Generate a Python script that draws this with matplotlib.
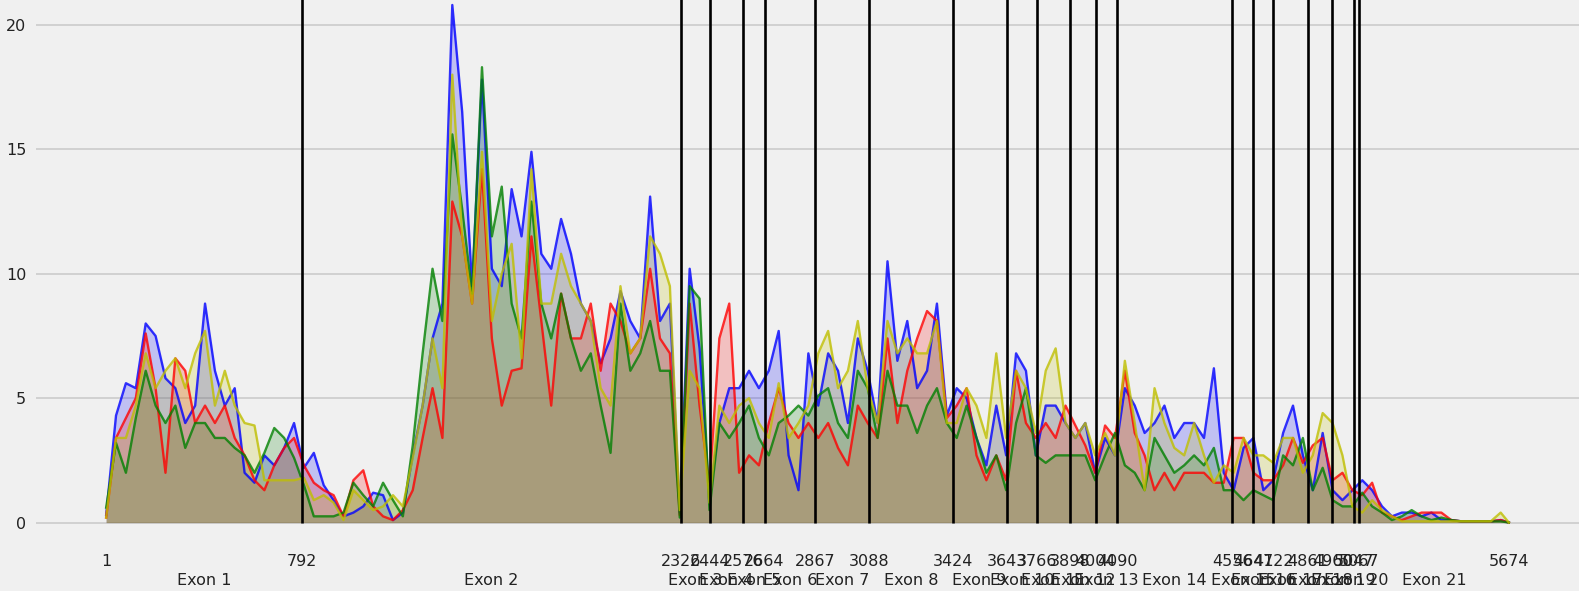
import numpy as np
import matplotlib
matplotlib.use("Agg")
import matplotlib.pyplot as plt
from matplotlib.ticker import FixedLocator, FixedFormatter

# Exon boundaries (positions along the transcript)
boundaries = [1, 792, 2326, 2444, 2576, 2664, 2867, 3088, 3424, 3643, 3766,
              3898, 4004, 4090, 4556, 4641, 4722, 4861, 4960, 5047, 5067, 5674]
exon_names = ["Exon %d" % i for i in range(1, 22)]

# sampled positions (every 40 bases) + end of transcript
positions = np.append(np.arange(1, 5642, 40), 5674)

blue = [0.3, 4.3, 5.6, 5.4, 8.0, 7.5, 5.8, 5.4, 4.0, 4.7, 8.8, 6.1, 4.7, 5.4, 2.0, 1.6, 2.7, 2.3, 3.0, 4.0, 2.2,
        2.8, 1.5, 0.9, 0.25, 0.4, 0.65, 1.2, 1.1, 0.1, 0.4, 2.7, 4.7, 7.4, 8.8, 20.8, 16.5, 9.5, 17.8, 10.2,
        9.5, 13.4, 11.5, 14.9, 10.8, 10.2, 12.2, 10.8, 8.8, 8.1, 6.4, 7.4, 9.3, 8.1, 7.4, 13.1, 8.1, 8.8, 0.4, 10.2, 7.0,
        1.0, 4.0, 5.4, 5.4, 6.1, 5.4, 6.1, 7.7, 2.7, 1.3, 6.8, 4.7, 6.8, 6.1, 4.0, 7.4, 6.1, 4.0, 10.5, 6.5,
        8.1, 5.4, 6.1, 8.8, 4.3, 5.4, 5.0, 3.4, 2.3, 4.7, 2.7, 6.8, 6.1, 2.7, 4.7, 4.7, 4.0, 3.4, 4.0, 2.0,
        3.4, 2.7, 5.4, 4.7, 3.6, 4.0, 4.7, 3.4, 4.0, 4.0, 3.4, 6.2, 2.0, 1.3, 3.0, 3.4, 1.3, 1.7, 3.6, 4.7, 2.7,
        1.3, 3.6, 1.3, 0.9, 1.3, 1.7, 1.3, 0.65, 0.25, 0.4, 0.4, 0.25, 0.4, 0.1, 0.1, 0.05, 0.05, 0.05, 0.05, 0.1, 0.0]

red = [0.2, 3.4, 4.2, 5.0, 7.6, 5.4, 2.0, 6.6, 6.1, 4.0, 4.7, 4.0, 4.7, 3.4, 2.7, 1.7, 1.3, 2.3, 3.0, 3.4, 2.3,
       1.6, 1.3, 1.1, 0.25, 1.7, 2.1, 0.65, 0.25, 0.1, 0.5, 1.3, 3.4, 5.4, 3.4, 12.9, 11.5, 8.8, 14.2, 7.4,
       4.7, 6.1, 6.2, 11.5, 8.1, 4.7, 9.2, 7.4, 7.4, 8.8, 6.1, 8.8, 8.1, 6.8, 7.4, 10.2, 7.4, 6.8, 0.3, 8.8, 4.7,
       1.5, 7.4, 8.8, 2.0, 2.7, 2.3, 4.0, 5.4, 4.0, 3.4, 4.0, 3.4, 4.0, 3.0, 2.3, 4.7, 4.0, 3.4, 7.4, 4.0,
       6.1, 7.4, 8.5, 8.1, 4.2, 4.7, 5.4, 2.7, 1.7, 2.7, 1.7, 6.1, 4.0, 3.4, 4.0, 3.4, 4.7, 3.9, 3.1, 2.0,
       3.9, 3.4, 6.1, 3.6, 2.7, 1.3, 2.0, 1.3, 2.0, 2.0, 2.0, 1.6, 1.6, 3.4, 3.4, 2.0, 1.7, 1.7, 2.3, 3.4, 2.4,
       3.1, 3.4, 1.7, 2.0, 1.3, 1.1, 1.6, 0.4, 0.25, 0.1, 0.25, 0.4, 0.4, 0.4, 0.1, 0.05, 0.05, 0.05, 0.05, 0.1, 0.0]

green = [0.6, 3.2, 2.0, 4.2, 6.1, 4.7, 4.0, 4.7, 3.0, 4.0, 4.0, 3.4, 3.4, 3.0, 2.7, 2.0, 2.8, 3.8, 3.4, 2.6, 1.5,
         0.25, 0.25, 0.25, 0.4, 1.6, 1.1, 0.65, 1.6, 0.9, 0.25, 3.1, 6.8, 10.2, 8.1, 15.6, 12.6, 9.2, 18.3, 11.5,
         13.5, 8.8, 7.4, 12.9, 8.8, 7.4, 9.2, 7.4, 6.1, 6.8, 4.7, 2.8, 8.8, 6.1, 6.8, 8.1, 6.1, 6.1, 0.2, 9.5, 9.0,
         0.5, 4.0, 3.4, 4.0, 4.7, 3.4, 2.7, 4.0, 4.3, 4.7, 4.3, 5.1, 5.4, 4.0, 3.4, 6.1, 5.4, 3.4, 6.1, 4.7,
         4.7, 3.6, 4.7, 5.4, 4.0, 3.4, 4.7, 3.4, 2.0, 2.7, 1.3, 4.0, 5.4, 2.7, 2.4, 2.7, 2.7, 2.7, 2.7, 1.7,
         2.7, 3.6, 2.3, 2.0, 1.3, 3.4, 2.7, 2.0, 2.3, 2.7, 2.3, 3.0, 1.3, 1.3, 0.9, 1.3, 1.1, 0.9, 2.7, 2.3, 3.4,
         1.3, 2.2, 0.9, 0.65, 0.65, 1.2, 0.65, 0.4, 0.1, 0.25, 0.5, 0.25, 0.1, 0.2, 0.1, 0.05, 0.05, 0.05, 0.05, 0.05, 0.0]

yellow = [0.2, 3.4, 3.4, 4.7, 6.8, 5.4, 6.1, 6.6, 5.4, 6.8, 7.7, 4.7, 6.1, 4.7, 4.0, 3.9, 1.7, 1.7, 1.7, 1.7, 1.8,
          0.9, 1.1, 0.8, 0.1, 1.3, 0.9, 0.5, 0.65, 1.1, 0.65, 2.6, 4.7, 7.4, 5.4, 18.0, 11.5, 8.8, 14.9, 8.1,
          10.0, 11.2, 6.6, 14.2, 8.8, 8.8, 10.8, 9.5, 8.8, 8.1, 5.4, 4.7, 9.5, 6.8, 7.4, 11.5, 10.8, 9.5, 0.5, 6.1, 5.4,
          0.8, 4.7, 4.0, 4.7, 5.0, 4.0, 3.4, 5.6, 3.4, 4.0, 4.7, 6.8, 7.7, 5.4, 6.1, 8.1, 5.4, 4.0, 8.1, 6.8,
          7.4, 6.8, 6.8, 8.1, 4.0, 4.0, 5.4, 4.7, 3.4, 6.8, 3.4, 6.1, 5.4, 3.6, 6.1, 7.0, 4.0, 3.4, 4.0, 2.7,
          3.6, 2.7, 6.5, 4.0, 1.3, 5.4, 4.0, 3.0, 2.7, 4.0, 2.7, 1.6, 2.3, 2.0, 3.4, 2.7, 2.7, 2.4, 3.4, 3.4, 2.0,
          2.7, 4.4, 4.0, 2.7, 0.65, 0.4, 0.9, 0.5, 0.25, 0.05, 0.05, 0.05, 0.05, 0.05, 0.05, 0.05, 0.05, 0.05, 0.05, 0.4, 0.0]

series = [(blue, "b"), (red, "r"), (green, "g"), (yellow, "y")]

BG = "#f0f0f0"
fig = plt.figure(figsize=(15.79, 5.91), dpi=100, facecolor=BG)
ax = fig.add_axes([36 / 1579, 0.0716, 1 - 36 / 1579, 0.9284])
ax.set_facecolor(BG)
for s in ax.spines.values():
    s.set_visible(False)

ax.set_axisbelow(True)
ax.grid(axis="y", color="#cbcbcb", linewidth=1.2)

for vals, c in series:
    ax.plot(positions, vals, color=c, alpha=0.8, linewidth=1.7)
    ax.fill_between(positions, 0, vals, color=c, alpha=0.2, linewidth=0)

ax.vlines(boundaries[1:-1], 0, 21.5, color="black", linewidth=1.9, zorder=5)

ax.set_xlim(1 - 0.05 * 5673, 5674 + 0.05 * 5673)
ax.set_ylim(-1.05, 21.0)
ax.set_yticks([0, 5, 10, 15, 20])

mids = [(boundaries[i] + boundaries[i + 1]) / 2 for i in range(len(boundaries) - 1)]
ax.xaxis.set_major_locator(FixedLocator(boundaries))
ax.xaxis.set_major_formatter(FixedFormatter([str(b) for b in boundaries]))
ax.xaxis.set_minor_locator(FixedLocator(mids))
ax.xaxis.set_minor_formatter(FixedFormatter(exon_names))

ax.tick_params(axis="x", which="major", length=0, pad=3.5, labelsize=11.5, labelcolor="#222222")
ax.tick_params(axis="x", which="minor", length=0, pad=17.5, labelsize=11.5, labelcolor="#222222")
ax.tick_params(axis="y", length=0, pad=7, labelsize=11.5, labelcolor="#222222")

fig.savefig("out.png", dpi=100, facecolor=BG)
